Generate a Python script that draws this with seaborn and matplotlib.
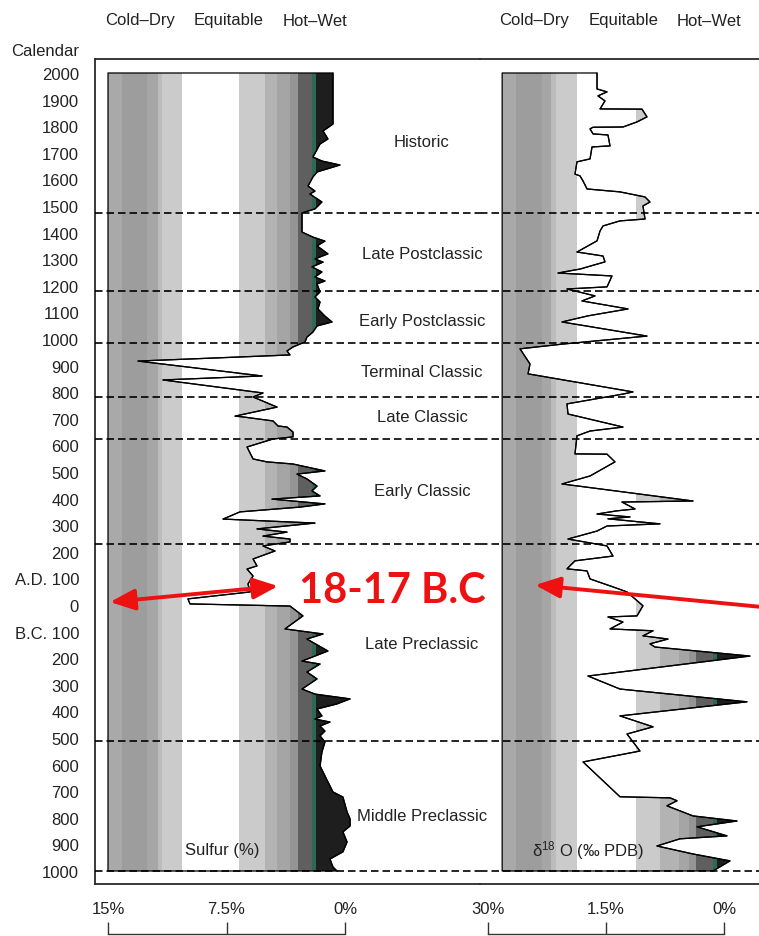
import matplotlib
matplotlib.use("Agg")
import matplotlib.pyplot as plt
import numpy as np
import pandas as pd
import seaborn as sns

# ---------------- data ----------------
# Sulfur (%) record, calendar years (negative = B.C.)
sulfur_year = [2000, 1808, 1782, 1752, 1733, 1684, 1669, 1654, 1628, 1609, 1575, 1556,
               1545, 1515, 1489, 1474, 1402, 1383, 1368, 1350, 1320, 1301, 1289, 1271,
               1252, 1233, 1218, 1207, 1177, 1158, 1139, 1113, 1086, 1064, 1049, 1026,
               1007, 989, 970, 955, 940, 917, 861, 846, 797, 782, 744, 710, 707, 692,
               673, 669, 650, 632, 624, 594, 549, 538, 530, 504, 492, 474, 447, 429,
               410, 398, 380, 368, 350, 323, 308, 286, 274, 259, 248, 237, 222, 203,
               173, 147, 135, 109, 79, 49, 23, 4, -4, -41, -90, -109, -128, -173,
               -211, -222, -252, -278, -316, -335, -353, -372, -391, -417, -429, -440,
               -455, -474, -492, -515, -553, -605, -665, -703, -722, -778, -804, -831,
               -853, -891, -928, -955, -985, -1000]
sulfur_pct = [0.76, 0.76, 1.39, 1.08, 1.58, 2.03, 1.46, 0.32, 1.77, 2.03, 2.34, 1.90,
              2.22, 1.46, 1.90, 2.72, 2.72, 2.03, 1.27, 1.77, 1.08, 1.90, 1.39, 2.09,
              1.46, 1.90, 1.27, 1.77, 1.58, 1.90, 1.58, 1.71, 1.27, 0.82, 1.77, 2.03,
              2.41, 2.53, 3.29, 3.67, 3.48, 13.10, 5.25, 11.52, 5.19, 5.82, 4.30, 6.96,
              6.46, 4.56, 4.24, 3.67, 3.29, 3.29, 4.56, 6.20, 5.82, 4.94, 3.29, 1.27,
              3.04, 2.41, 1.77, 2.09, 1.58, 4.62, 1.27, 2.85, 6.65, 7.72, 1.90, 5.57,
              3.67, 5.19, 3.48, 3.48, 5.19, 4.43, 5.82, 5.57, 6.20, 5.82, 6.14, 6.01,
              9.94, 9.81, 3.48, 2.66, 3.80, 1.39, 2.41, 1.08, 2.72, 1.58, 2.41, 1.77,
              2.72, 1.90, -0.32, 0.51, 1.77, 1.46, 1.90, 0.95, 1.58, 1.27, 1.58, 1.27,
              1.46, 1.58, 1.08, 0.76, 0.13, -0.13, -0.32, -0.32, 0.13, -0.13, 0.13,
              0.95, 0.76, 0.51]

# Oxygen isotope record
d18o_year = [2000, 1940, 1929, 1914, 1895, 1865, 1864, 1835, 1816, 1797, 1796, 1790,
             1771, 1767, 1726, 1722, 1677, 1666, 1620, 1613, 1594, 1564, 1553, 1534,
             1515, 1500, 1451, 1444, 1425, 1406, 1369, 1327, 1312, 1290, 1263, 1248,
             1237, 1196, 1188, 1162, 1143, 1113, 1087, 1064, 1011, 981, 963, 906, 869,
             801, 793, 756, 718, 669, 654, 636, 568, 567, 538, 485, 455, 391, 387,
             361, 354, 342, 331, 324, 305, 297, 278, 248, 222, 184, 166, 136, 128,
             98, 68, 49, -3, -41, -45, -64, -90, -97, -116, -128, -146, -158, -192,
             -267, -316, -364, -417, -458, -485, -549, -590, -721, -725, -736, -755,
             -793, -812, -834, -868, -879, -906, -936, -962, -1000]
d18o_val = [1.614, 1.614, 1.487, 1.602, 1.513, 1.576, 1.042, 0.979, 1.106, 1.284,
            1.665, 1.703, 1.665, 1.475, 1.449, 1.678, 1.703, 1.869, 1.894, 1.830,
            1.792, 1.741, 1.322, 1.004, 0.941, 1.030, 1.004, 1.322, 1.538, 1.576,
            1.614, 1.869, 1.538, 1.513, 1.830, 2.110, 1.424, 1.487, 1.996, 1.640,
            1.805, 1.220, 1.729, 2.059, 0.979, 2.047, 2.593, 2.466, 2.491, 1.157,
            1.284, 1.996, 1.983, 1.284, 1.703, 1.869, 1.894, 1.487, 1.386, 1.703,
            2.059, 0.394, 1.297, 1.131, 1.360, 1.614, 1.195, 1.475, 0.814, 1.487,
            1.614, 1.983, 1.487, 1.411, 1.894, 1.996, 1.741, 1.703, 1.411, 1.233,
            1.030, 1.106, 1.475, 1.284, 1.449, 0.902, 1.030, 0.712, 0.941, 0.877,
            -0.330, 1.729, 1.322, -0.292, 1.322, 0.902, 1.233, 1.068, 1.792, 1.322,
            0.686, 0.597, 0.725, 0.394, -0.165, 0.343, -0.038, 0.559, 0.852, 0.394,
            -0.076, 0.140]

# Climate zone shading (edges from the dry side to the wet side)
sulfur_zone_edges = [15.0, 14.11, 12.53, 11.84, 11.58, 10.32, 6.71, 5.06, 4.30, 3.48,
                     2.97, 2.09, 1.84, -1.0]
d18o_zone_edges = [2.82, 2.644, 2.313, 2.199, 2.135, 1.869, 1.119, 0.814, 0.572, 0.445,
                   0.356, 0.140, 0.089, -0.6]
zone_colors = ["#a9a9a9", "#9d9d9d", "#a6a6a6", "#bcbcbc", "#cbcbcb", "#ffffff",
               "#cbcbcb", "#b3b3b3", "#a5a5a5", "#959595", "#5f5f5f", "#2d6a55",
               "#1e1e1e"]

# Cultural periods and boundaries
period_names = ["Historic", "Late Postclassic", "Early Postclassic", "Terminal Classic",
                "Late Classic", "Early Classic", "Late Preclassic", "Middle Preclassic"]
period_label_year = [1744, 1323, 1071, 876, 707, 429, -146, -793]
period_bounds = [1474, 1180, 985, 782, 624, 229, -511, -1000]

year_ticks = [2000, 1900, 1800, 1700, 1600, 1500, 1400, 1300, 1200, 1100, 1000, 900,
              800, 700, 600, 500, 400, 300, 200, 100, 0, -100, -200, -300, -400, -500,
              -600, -700, -800, -900, -1000]
zone_names = ["Cold\u2013Dry", "Equitable", "Hot\u2013Wet"]
sulfur_scale = [15, 7.5, 0]
sulfur_scale_labels = ["15%", "7.5%", "0%"]
d18o_scale = [3.0, 1.5, 0]
d18o_scale_labels = ["30%", "1.5%", "0%"]
event_label = "18-17 B.C"
event_year = 11

# ---------------- style ----------------
sns.set_style("white")
plt.rcParams["font.family"] = ["Liberation Sans", "DejaVu Sans"]
plt.rcParams["mathtext.fontset"] = "custom"
plt.rcParams["mathtext.rm"] = "Liberation Sans"
plt.rcParams["mathtext.it"] = "Liberation Sans:italic"
plt.rcParams["mathtext.bf"] = "Liberation Sans:bold"
TXT = "#222222"
RED = "#ee1111"
FS = 12

W, H = 759, 937
fig = plt.figure(figsize=(W / 100, H / 100), dpi=100)
fig.patch.set_facecolor("white")


def box(x0, y0, x1, y1):
    return [x0 / W, 1 - y1 / H, (x1 - x0) / W, (y1 - y0) / H]


Y_LIM = (-1048.9, 2052.6)
ax1 = fig.add_axes(box(95, 60, 480, 885))
ax2 = fig.add_axes(box(480, 60, 759, 885))
X1 = (15.823, -8.544)
X2 = (3.1017, -0.4449)


def draw_record(ax, years, vals, edges, xlim):
    df = pd.DataFrame({"year": years, "val": vals})
    poly = ax.fill_betweenx(df["year"], edges[0], df["val"], facecolor="none",
                            edgecolor="black", linewidth=0.9, zorder=3)
    clip = poly.get_paths()[0]
    for lo, hi, c in zip(edges[:-1], edges[1:], zone_colors):
        span = ax.axvspan(hi, lo, facecolor=c, edgecolor="none", linewidth=0, zorder=1)
        span.set_clip_path(clip, ax.transData)
    sns.lineplot(data=df, x="val", y="year", orient="y", sort=False, estimator=None,
                 color="black", linewidth=0.9, ax=ax, zorder=4)
    for b in period_bounds:
        ax.axhline(b, color="black", linewidth=1.2, linestyle=(0, (4.5, 2.4)), zorder=5)
    ax.set_xlim(*xlim)
    ax.set_ylim(*Y_LIM)
    ax.set_xlabel("")
    ax.set_ylabel("")
    ax.set_xticks([])
    ax.patch.set_visible(False)
    for s in ax.spines.values():
        s.set_color("#2a2a2a")
        s.set_linewidth(1.3)
    ax.spines["right"].set_visible(False)


draw_record(ax1, sulfur_year, sulfur_pct, sulfur_zone_edges, X1)
draw_record(ax2, d18o_year, d18o_val, d18o_zone_edges, X2)
ax2.spines["left"].set_visible(False)
ax2.set_yticks([])

# calendar axis
tick_labels = []
for y in year_ticks:
    if y == 100:
        tick_labels.append("A.D. 100")
    elif y == -100:
        tick_labels.append("B.C. 100")
    else:
        tick_labels.append(str(abs(y)))
ax1.set_yticks(year_ticks, tick_labels)
ax1.tick_params(axis="y", length=0, pad=11.5, labelsize=FS, labelcolor=TXT)
fig.text(79 / W, 1 - 52 / H, "Calendar", ha="right", va="center", fontsize=FS, color=TXT)

# zone headers
for xs in ([140, 229, 315], [534, 624, 709]):
    for x, name in zip(xs, zone_names):
        fig.text(x / W, 1 - 21 / H, name, ha="center", va="center", fontsize=FS, color=TXT)

# period names
for name, y in zip(period_names, period_label_year):
    ax1.text(-4.87, y, name, ha="center", va="center", fontsize=FS, color=TXT, zorder=6)

# record labels
ax1.text(7.78, -921, "Sulfur (%)", ha="center", va="center", fontsize=FS, color=TXT, zorder=6)
ax2.text(1.73, -921, "\u03b4$^{18}$ O (\u2030 PDB)", ha="center", va="center",
         fontsize=FS, color=TXT, zorder=6)

# scale bars under the panels
for xs, (pos, xlim, ticks, labels) in enumerate([
        ((95, 922, 480, 935), X1, sulfur_scale, sulfur_scale_labels),
        ((480, 922, 759, 935), X2, d18o_scale, d18o_scale_labels)]):
    sa = fig.add_axes(box(*pos))
    sa.set_xlim(*xlim)
    sa.set_ylim(0, 1)
    sa.patch.set_visible(False)
    for k in ("left", "right", "top"):
        sa.spines[k].set_visible(False)
    sa.spines["bottom"].set_bounds(min(ticks), max(ticks))
    sa.spines["bottom"].set_color("#333333")
    sa.spines["bottom"].set_linewidth(1.0)
    sa.set_yticks([])
    sa.set_xticks(ticks, labels)
    sa.tick_params(axis="x", direction="in", length=8.6, width=1.0, color="#333333",
                   bottom=True, top=False, labelbottom=False, labeltop=True,
                   pad=3.5, labelsize=FS, labelcolor=TXT)

# event annotation
ax1.text(-2.97, event_year, event_label, color=RED, fontsize=30, fontweight="bold",
         family=["Lato", "DejaVu Sans"], ha="center", va="baseline", zorder=10)
ax1.annotate("", xy=(14.87, event_year), xytext=(4.24, 71),
             arrowprops=dict(arrowstyle="<|-|>,head_length=0.75,head_width=0.32",
                             mutation_scale=20, color=RED, lw=2.8,
                             shrinkA=0, shrinkB=0), zorder=10)
ax2.annotate("", xy=(2.40, 75), xytext=(-0.483, -7.5),
             arrowprops=dict(arrowstyle="-|>,head_length=0.75,head_width=0.32",
                             mutation_scale=20, color=RED, lw=2.8,
                             shrinkA=0, shrinkB=0), zorder=10, annotation_clip=False)

fig.savefig("out.png", dpi=100)
